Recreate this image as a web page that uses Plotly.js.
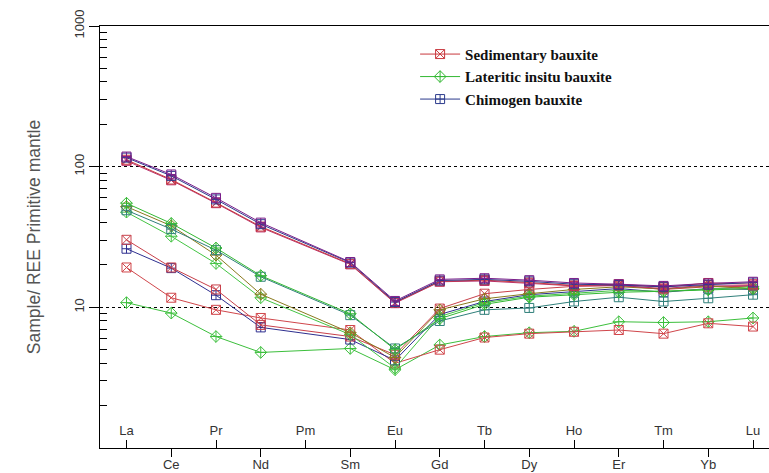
<!DOCTYPE html>
<html>
<head>
<meta charset="utf-8">
<script src="https://cdn.plot.ly/plotly-3.0.1.min.js"></script>
<style>html,body{margin:0;padding:0;background:#fff;}#chart{width:769px;height:473px;}</style>
</head>
<body>
<div id="chart"></div>
<script>
// Element order (Pm has no data; lines connect across it)
const elements = ['La','Ce','Pr','Nd','Pm','Sm','Eu','Gd','Tb','Dy','Ho','Er','Tm','Yb','Lu'];
const upperLabels = ['La','Pr','Pm','Eu','Tb','Ho','Tm','Lu'];
const lowerLabels = ['Ce','Nd','Sm','Gd','Dy','Er','Yb'];
const yTickLabels = ['1','10','100','1000'];
const legendNames = ['Sedimentary bauxite','Lateritic insitu bauxite','Chimogen bauxite'];

// Sample / primitive mantle values, one array per sample
const chimogenA   = [118, 88, 60, 40, null, 21.0, 11.1, 15.8, 16.1, 15.6, 14.9, 14.6, 14.2, 14.8, 15.2];
const chimogenB   = [116, 86, 58.5, 39, null, 20.8, 10.9, 15.5, 15.8, 15.3, 14.6, 14.4, 14.0, 14.5, 15.0];
const sedimentA   = [112, 81, 55.5, 37.5, null, 20.4, 10.8, 15.3, 15.6, 15.0, 14.3, 14.6, 13.9, 14.9, 14.6];
const sedimentB   = [110, 80, 55, 37, null, 20.2, 10.7, 15.2, 15.4, 14.8, 14.2, 14.3, 13.6, 14.4, 14.3];
const lateriticA  = [55, 39.5, 26.4, 16.8, null, 9.0, 5.0, 8.3, 10.5, 11.8, 12.3, 12.8, 13.0, 13.3, 13.6];
const chimogenC   = [49, 36, 25.5, 16.5, null, 8.8, 5.1, 8.0, 9.6, 9.9, 11.0, 11.8, 11.0, 11.6, 12.3];
const lateriticB  = [52, 38, 23.5, 12.4, null, 6.6, 4.4, 9.6, 11.5, 12.5, 13.4, 14.0, 13.5, 14.2, 13.5];
const lateriticC  = [47.5, 32, 20.5, 11.7, null, 6.4, 3.7, 8.6, 10.8, 12.0, 12.6, 13.2, 13.0, 13.5, 14.0];
const sedimentC   = [30.2, 19.2, 13.4, 7.5, null, 6.2, 4.6, 9.8, 12.5, 13.4, 14.1, 14.3, 13.4, 14.0, 14.1];
const chimogenD   = [26.1, 19.0, 12.2, 7.2, null, 5.9, 4.2, 8.9, 11.0, 12.3, 13.0, 13.6, 12.8, 13.6, 13.4];
const sedimentD   = [19.2, 11.7, 9.6, 8.4, null, 6.9, 4.0, 5.0, 6.1, 6.5, 6.7, 6.9, 6.5, 7.7, 7.3];
const lateriticD  = [10.8, 9.1, 6.2, 4.78, null, 5.1, 3.6, 5.4, 6.2, 6.6, 6.75, 7.9, 7.8, 7.9, 8.4];

const xIdx = elements.map((_, i) => i);
const upperVals = elements.map((e, i) => i).filter(i => i % 2 === 0);
const lowerVals = elements.map((e, i) => i).filter(i => i % 2 === 1);

function tr(y, name, color, symbol, show, rank) {
  return {
    x: xIdx, y: y, type: 'scatter', mode: 'lines+markers', connectgaps: true,
    name: name, showlegend: show, legendrank: rank, hoverinfo: 'skip',
    line: {color: color, width: 1},
    marker: {symbol: symbol, size: 9, color: color, line: {color: color, width: 1}}
  };
}

const traces = [
  tr(lateriticD, 'lat-d', '#3cbf3c', 'diamond-cross-open', false),
  tr(sedimentD, 'sed-d', '#d0464b', 'square-x-open', false),
  tr(chimogenD, 'chi-d', '#2e2f8f', 'square-cross-open', false),
  tr(sedimentC, 'sed-c', '#c8404a', 'square-x-open', false),
  tr(lateriticC, 'lat-c', '#44c444', 'diamond-cross-open', false),
  tr(lateriticB, 'lat-b', '#8a7a1e', 'diamond-cross-open', false),
  tr(chimogenC, 'chi-c', '#2f7f7a', 'square-cross-open', false),
  tr(lateriticA, legendNames[1], '#33b833', 'diamond-cross-open', true, 2),
  tr(sedimentB, 'sed-b', '#b8306e', 'square-x-open', false),
  tr(sedimentA, legendNames[0], '#c8373d', 'square-x-open', true, 1),
  tr(chimogenB, legendNames[2], '#2b3a8c', 'square-cross-open', true, 3),
  tr(chimogenA, 'chi-a', '#7a1f8a', 'square-cross-open', false),
  {x: [lowerVals[0]], y: [1], xaxis: 'x2', type: 'scatter', mode: 'markers',
   marker: {opacity: 0}, showlegend: false, hoverinfo: 'skip'}
];

const minorVals = [];
[1, 10, 100].forEach(d => { for (let k = 2; k <= 9; k++) minorVals.push(k * d); });

const tickFont = {family: 'Liberation Sans, Arial, sans-serif', size: 13, color: '#333'};
const xr = [-0.592, 14.357];

const layout = {
  width: 769, height: 473,
  margin: {l: 100, r: 0, t: 26, b: 25},
  paper_bgcolor: '#fff', plot_bgcolor: '#fff',
  showlegend: true,
  legend: {
    x: 0.471, y: 0.972, xanchor: 'left', yanchor: 'top',
    bgcolor: 'rgba(0,0,0,0)', itemwidth: 40, tracegroupgap: 0,
    font: {family: 'Liberation Serif, Times New Roman, serif', size: 15, weight: 'bold', color: '#111'}
  },
  xaxis: {
    range: xr, tickmode: 'array', tickvals: upperVals, ticktext: upperLabels,
    ticks: 'inside', ticklen: 8, tickcolor: '#000', tickwidth: 1,
    ticklabelposition: 'inside', ticklabelstandoff: 2, tickfont: tickFont,
    showline: true, linecolor: '#000', linewidth: 1.3, mirror: true,
    showgrid: false, zeroline: false, automargin: false
  },
  xaxis2: {
    range: xr, overlaying: 'x', anchor: 'y', side: 'bottom',
    tickmode: 'array', tickvals: lowerVals, ticktext: lowerLabels,
    ticks: 'outside', ticklen: 8, tickcolor: '#000', tickwidth: 1, ticklabelstandoff: -4,
    tickfont: tickFont, showline: false, showgrid: false, zeroline: false, automargin: false
  },
  yaxis: {
    type: 'log', range: [0, 3],
    tickmode: 'array', tickvals: [1, 10, 100, 1000], ticktext: yTickLabels,
    ticks: 'outside', ticklen: 10, tickcolor: '#000', tickangle: -90, tickfont: tickFont,
    showline: true, linecolor: '#000', linewidth: 1.3,
    showgrid: true, gridcolor: '#000', griddash: 'dot', gridwidth: 1.2,
    zeroline: false, automargin: false,
    minor: {tickmode: 'array', tickvals: minorVals, ticks: 'inside', ticklen: 7, tickcolor: '#000', showgrid: false},
    title: {text: 'Sample/ REE Primitive mantle', standoff: 26,
            font: {family: 'Liberation Sans, Arial, sans-serif', size: 17.5, color: '#555'}}
  }
};

Plotly.newPlot('chart', traces, layout, {displayModeBar: false, staticPlot: true});
</script>
</body>
</html>
